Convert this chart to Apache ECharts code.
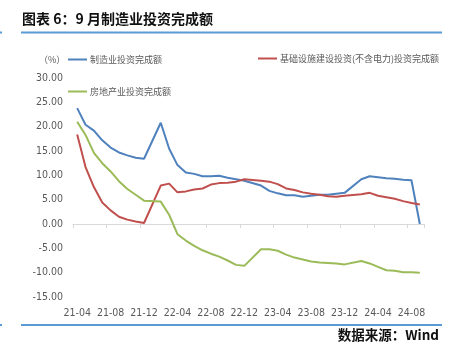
<!DOCTYPE html>
<html>
<head>
<meta charset="utf-8">
<script src="https://cdn.jsdelivr.net/npm/echarts@6/dist/echarts.min.js"></script>
<style>
  html, body { margin: 0; padding: 0; background: #fff; }
  #chart { width: 457px; height: 351px; }
</style>
</head>
<body>
<div id="chart"></div>
<script>
// 月份（1月数据缺失，用 null 连线）
var months = [
  '21-04', '21-05', '21-06', '21-07', '21-08', '21-09', '21-10', '21-11', '21-12',
  '22-01', '22-02', '22-03', '22-04', '22-05', '22-06', '22-07', '22-08', '22-09', '22-10', '22-11', '22-12',
  '23-01', '23-02', '23-03', '23-04', '23-05', '23-06', '23-07', '23-08', '23-09', '23-10', '23-11', '23-12',
  '24-01', '24-02', '24-03', '24-04', '24-05', '24-06', '24-07', '24-08', '24-09'
];
// 制造业投资完成额
var manufacturing = [
  23.8, 20.4, 19.2, 17.2, 15.7, 14.7, 14.1, 13.6, 13.4,
  null, 20.8, 15.5, 12.1, 10.6, 10.3, 9.8, 9.8, 9.9, 9.5, 9.2, 8.9,
  null, 7.9, 6.8, 6.3, 5.9, 5.9, 5.6, 5.8, 6.0, 6.0, 6.2, 6.4,
  null, 9.2, 9.8, 9.6, 9.4, 9.3, 9.1, 9.0, 0
];
// 基础设施建设投资(不含电力)
var infrastructure = [
  18.4, 11.7, 7.6, 4.4, 2.8, 1.5, 0.9, 0.5, 0.2,
  null, 7.9, 8.3, 6.5, 6.7, 7.1, 7.3, 8.1, 8.4, 8.5, 8.7, 9.2,
  null, 8.9, 8.7, 8.2, 7.3, 7.0, 6.5, 6.2, 6.0, 5.7, 5.6, 5.8,
  null, 6.1, 6.4, 5.8, 5.5, 5.2, 4.7, 4.3, 4.0
];
// 房地产业投资完成额
var realEstate = [
  21.0, 18.3, 14.6, 12.5, 10.8, 8.8, 7.2, 6.0, 4.8,
  null, 4.6, 1.9, -2.1, -3.4, -4.5, -5.4, -6.1, -6.7, -7.5, -8.4, -8.6,
  null, -5.2, -5.2, -5.5, -6.3, -6.9, -7.3, -7.7, -7.9, -8.0, -8.1, -8.3,
  null, -7.6, -8.1, -8.8, -9.5, -9.6, -9.9, -9.9, -10.0
];
var yTicks = { min: -15, max: 30, step: 5 };

var names = ['制造业投资完成额', '基础设施建设投资(不含电力)投资完成额', '房地产业投资完成额'];
var colors = ['#4F81BD', '#C0504D', '#9BBB59'];
var numFont = "'Liberation Sans Narrow', 'DejaVu Sans Condensed', sans-serif";
var cjkFont = "'Noto Sans CJK SC', sans-serif";

var myChart = echarts.init(document.getElementById('chart'));

function legendAt(name, left, top) {
  return {
    data: [name],
    left: left,
    top: top,
    padding: 0,
    icon: 'rect',
    itemWidth: 19,
    itemHeight: 2,
    itemGap: 0,
    selectedMode: false,
    textStyle: { fontFamily: cjkFont, fontSize: 9, color: '#595959', padding: [0, 0, 0, -2] }
  };
}

myChart.setOption({
  animation: false,
  color: colors,
  grid: { left: 73, right: 33, top: 78, bottom: 54 },
  legend: [
    legendAt(names[0], 68, 55),
    legendAt(names[1], 258, 54),
    legendAt(names[2], 68, 87)
  ],
  xAxis: [{
    type: 'category',
    data: months,
    boundaryGap: true,
    axisLine: { onZero: true, lineStyle: { color: '#d9d9d9', width: 1 } },
    axisTick: { show: true, interval: 3, length: 4, lineStyle: { color: '#d9d9d9' } },
    axisLabel: { show: false }
  }, {
    type: 'category',
    data: months,
    position: 'bottom',
    boundaryGap: true,
    axisLine: { show: false, onZero: false },
    axisTick: { show: false },
    axisLabel: { interval: 3, margin: 11, fontFamily: numFont, fontSize: 10.5, color: '#595959' }
  }],
  yAxis: {
    type: 'value',
    min: yTicks.min,
    max: yTicks.max,
    interval: yTicks.step,
    axisLine: { show: false },
    axisTick: { show: false },
    splitLine: { show: false },
    axisLabel: {
      margin: 10,
      fontFamily: numFont,
      fontSize: 10.5,
      color: '#595959',
      formatter: function(v) { return v.toFixed(2); }
    }
  },
  series: [manufacturing, infrastructure, realEstate].map(function(d, i) {
    return {
      name: names[i],
      type: 'line',
      data: d,
      connectNulls: true,
      showSymbol: false,
      symbol: 'none',
      lineStyle: { width: 2, color: colors[i] },
      itemStyle: { color: colors[i] }
    };
  }),
  graphic: [
    { type: 'text', left: 22, top: 12, style: { text: '图表 6：9 月制造业投资完成额', fontFamily: cjkFont, fontSize: 14, fontWeight: 'bold', fill: '#111' } },
    { type: 'line', shape: { x1: 21, y1: 32.5, x2: 442, y2: 32.5 }, style: { stroke: '#5B9BD5', lineWidth: 2 } },
    { type: 'line', shape: { x1: 0, y1: 32.5, x2: 2, y2: 32.5 }, style: { stroke: '#5B9BD5', lineWidth: 2 } },
    { type: 'text', left: 39, top: 55, style: { text: '（%）', fontFamily: cjkFont, fontSize: 9, fill: '#595959' } },
    { type: 'line', shape: { x1: 21, y1: 325, x2: 442, y2: 325 }, style: { stroke: '#5B9BD5', lineWidth: 2 } },
    { type: 'line', shape: { x1: 0, y1: 325, x2: 2, y2: 325 }, style: { stroke: '#5B9BD5', lineWidth: 2 } },
    { type: 'text', right: 18, top: 328, style: { text: '数据来源：Wind', fontFamily: cjkFont, fontSize: 13.5, fontWeight: 'bold', fill: '#111' } }
  ]
});
</script>
</body>
</html>
